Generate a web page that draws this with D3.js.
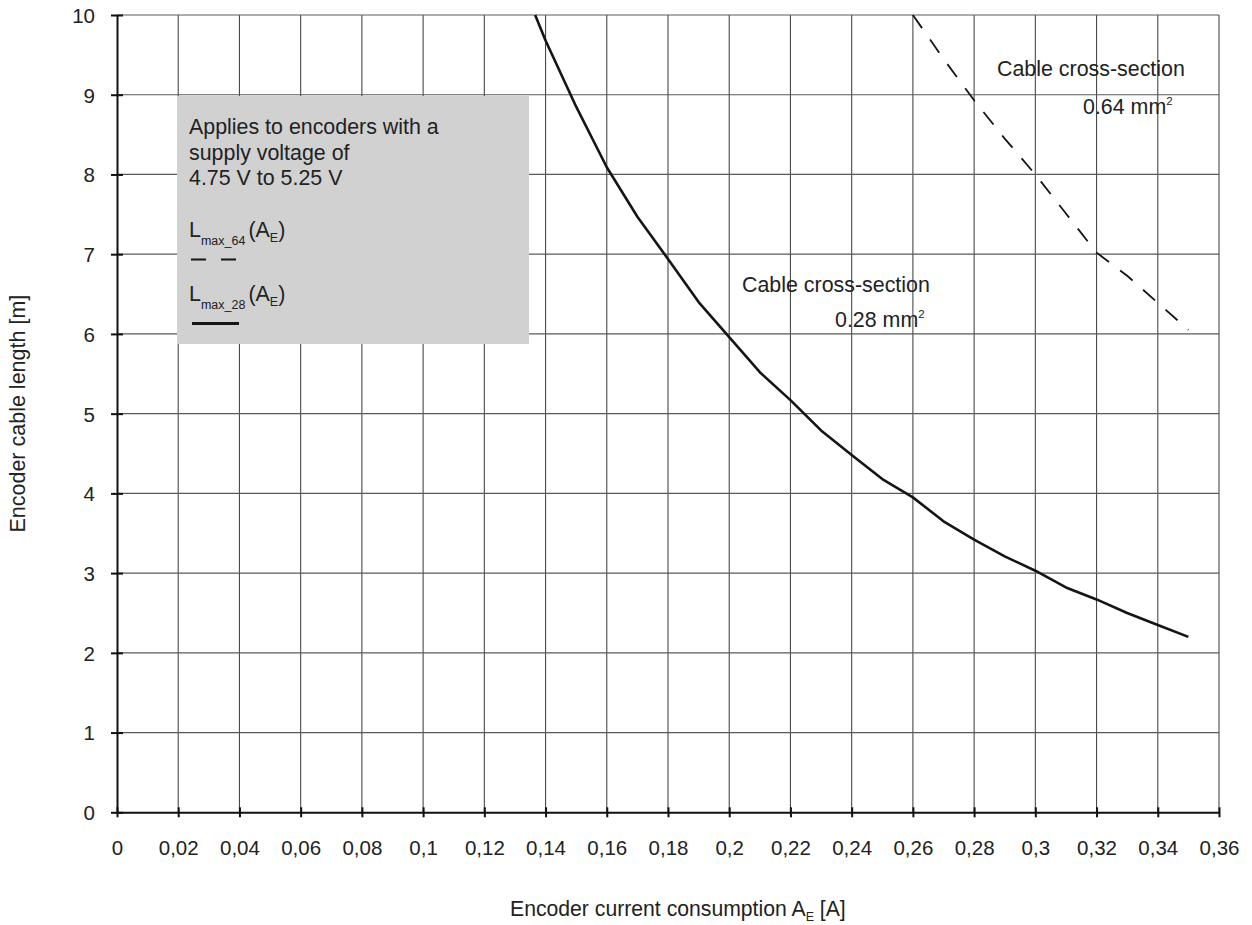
<!DOCTYPE html>
<html><head><meta charset="utf-8">
<script src="https://cdn.jsdelivr.net/npm/d3@7"></script>
<style>body{margin:0;background:#fff}svg{display:block}text{font-family:"Liberation Sans",Arial,sans-serif;fill:#222}</style>
</head><body>
<svg id="c" width="1252" height="925"></svg>
<script>
// Data
const xTicks = [0,0.02,0.04,0.06,0.08,0.1,0.12,0.14,0.16,0.18,0.2,0.22,0.24,0.26,0.28,0.3,0.32,0.34,0.36];
const xTickLabels = ["0","0,02","0,04","0,06","0,08","0,1","0,12","0,14","0,16","0,18","0,2","0,22","0,24","0,26","0,28","0,3","0,32","0,34","0,36"];
const yTicks = [0,1,2,3,4,5,6,7,8,9,10];
// L_max_28 (0.28 mm², solid)
const a28 = [0.1366,0.14,0.15,0.16,0.17,0.18,0.19,0.20,0.21,0.22,0.23,0.24,0.25,0.26,0.27,0.28,0.29,0.30,0.31,0.32,0.33,0.34,0.35];
const l28 = [10,9.68,8.85,8.09,7.47,6.94,6.4,5.96,5.52,5.17,4.79,4.48,4.18,3.95,3.65,3.42,3.21,3.03,2.82,2.67,2.50,2.35,2.20];
// L_max_64 (0.64 mm², dashed)
const a64 = [0.26,0.27,0.28,0.29,0.30,0.31,0.32,0.33,0.34,0.35];
const l64 = [10,9.45,8.93,8.45,8.0,7.51,7.02,6.73,6.39,6.05];

const svg = d3.select("#c");
const L = 117, R = 1219, T = 15, B = 812.3;
const x = d3.scaleLinear().domain([0,0.36]).range([L,R]);
const y = d3.scaleLinear().domain([0,10]).range([B,T]);

// grid
svg.append("g").selectAll("line").data(xTicks.slice(1)).join("line")
  .attr("x1",d=>x(d)).attr("x2",d=>x(d)).attr("y1",T).attr("y2",B)
  .attr("stroke","#4a4a4a").attr("stroke-width",1.1);
svg.append("g").selectAll("line").data(yTicks.slice(1)).join("line")
  .attr("x1",L).attr("x2",R).attr("y1",d=>y(d)).attr("y2",d=>y(d))
  .attr("stroke","#5a5a5a").attr("stroke-width",1.2);

// legend box
svg.append("rect").attr("x",177).attr("y",96).attr("width",352).attr("height",248).attr("fill","#d1d1d1");

// axes
const xAxis = d3.axisBottom(x).tickValues(xTicks).tickFormat((d,i)=>xTickLabels[i]).tickSizeInner(5).tickSizeOuter(0).tickPadding(30);
const gx = svg.append("g").attr("transform",`translate(0,${B})`).call(xAxis);
gx.select(".domain").attr("stroke","#111").attr("stroke-width",2);
gx.selectAll(".tick line").attr("y1",-5).attr("y2",5).attr("stroke","#111").attr("stroke-width",2);
gx.selectAll(".tick text").attr("font-size",20.5).attr("fill","#222").attr("dy",0).attr("y",43)
  .attr("font-family","Liberation Sans, Arial, sans-serif");

const yAxis = d3.axisLeft(y).tickValues(yTicks).tickSizeInner(6).tickSizeOuter(0).tickPadding(16);
const gy = svg.append("g").attr("transform",`translate(${L},0)`).call(yAxis);
gy.select(".domain").attr("stroke","#111").attr("stroke-width",2);
gy.selectAll(".tick line").attr("x1",-6).attr("x2",6).attr("stroke","#111").attr("stroke-width",2);
gy.selectAll(".tick text").attr("font-size",20.5).attr("fill","#222").attr("dy","0.36em")
  .attr("font-family","Liberation Sans, Arial, sans-serif");

// curves
const line = d3.line().x(d=>x(d[0])).y(d=>y(d[1]));
svg.append("path").datum(a28.map((a,i)=>[a,l28[i]])).attr("d",line)
  .attr("fill","none").attr("stroke","#151515").attr("stroke-width",2.6).attr("stroke-linejoin","round");
svg.append("path").datum(a64.map((a,i)=>[a,l64[i]])).attr("d",line)
  .attr("fill","none").attr("stroke","#151515").attr("stroke-width",1.8).attr("stroke-dasharray","16,14");

// legend text
const FS = 21.4;
const lg = svg.append("g").attr("font-size",FS);
lg.append("text").attr("x",189).attr("y",134).text("Applies to encoders with a");
lg.append("text").attr("x",189).attr("y",159.5).text("supply voltage of");
lg.append("text").attr("x",189).attr("y",185).text("4.75 V to 5.25 V");
function lsym(yb, sub){
  const t = lg.append("text").attr("x",189).attr("y",yb);
  t.append("tspan").text("L");
  t.append("tspan").attr("font-size",12.5).attr("dy",8).text(sub);
  t.append("tspan").attr("dy",-8).attr("dx",3).text("(A");
  t.append("tspan").attr("font-size",12.5).attr("dy",5).text("E");
  t.append("tspan").attr("dy",-5).text(")");
}
lsym(237,"max_64");
lsym(301,"max_28");
lg.append("line").attr("x1",191).attr("x2",237).attr("y1",259.5).attr("y2",259.5)
  .attr("stroke","#151515").attr("stroke-width",2).attr("stroke-dasharray","15,15");
lg.append("line").attr("x1",192).attr("x2",239).attr("y1",323.5).attr("y2",323.5)
  .attr("stroke","#151515").attr("stroke-width",3);

// annotations
function ann(x0,y0,x1,y1,val){
  svg.append("text").attr("x",x0).attr("y",y0).attr("font-size",FS).text("Cable cross-section");
  const t = svg.append("text").attr("x",x1).attr("y",y1).attr("font-size",FS);
  t.append("tspan").text(val+" mm");
  t.append("tspan").attr("font-size",11.5).attr("dy",-9).text("2");
}
ann(997,76,1083,113.5,"0.64");
ann(742,291.5,835,327,"0.28");

// axis titles
const xt = svg.append("text").attr("x",510).attr("y",916).attr("font-size",21.2);
xt.append("tspan").text("Encoder current consumption A");
xt.append("tspan").attr("font-size",12.5).attr("dy",5).text("E");
xt.append("tspan").attr("dy",-5).text(" [A]");
svg.append("text").attr("transform",`translate(25,${(T+B)/2}) rotate(-90)`).attr("text-anchor","middle")
  .attr("font-size",21.5).text("Encoder cable length [m]");
</script>
</body></html>
